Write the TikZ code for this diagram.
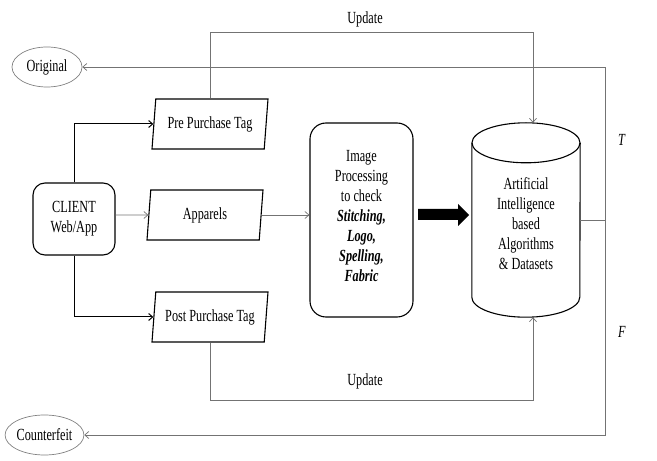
\documentclass[tikz,border=0pt]{standalone}
\usepackage{fontspec}
\setmainfont{Liberation Serif}[FakeStretch=0.72]
\usetikzlibrary{shapes.geometric,arrows.meta,positioning}

\tikzset{
  box/.style={draw,line width=1.1pt,rounded corners=12pt,align=center,inner sep=2pt},
  tag/.style={draw,line width=1.1pt,trapezium,trapezium left angle=79,trapezium right angle=101,
    trapezium stretches body,minimum width=116pt,minimum height=50pt,inner sep=2pt},
  result/.style={draw=gray,line width=0.7pt,ellipse,inner sep=0pt,minimum height=40pt},
  flow/.style={->,line width=1pt},
  feed/.style={->,line width=0.7pt,draw=black!55},
}

\begin{document}
\begin{tikzpicture}[x=1pt,y=1pt,>={Straight Barb[length=4pt,width=7pt]},
    font=\fontsize{17pt}{20pt}\selectfont]
  \useasboundingbox (0,0) rectangle (657,461);

  % outcomes
  \node[result,minimum width=70pt] (orig) at (47,394) {Original};
  \node[result,minimum width=75pt] (counter) at (44.5,26) {Counterfeit};

  % input side
  \node[box,minimum width=82pt,minimum height=72pt] (client) at (74,242) {CLIENT\\Web/App};
  \node[tag] (pre) at (210,337) {Pre Purchase Tag};
  \node[tag] (app) at (205,246) {Apparels};
  \node[tag] (post) at (210,144) {Post Purchase Tag};

  % processing
  \node[box,rounded corners=16pt,minimum width=103pt,minimum height=194pt] (img) at (361.5,241)
    {Image\\Processing\\to check\\\textbf{\textit{Stitching,}}\\\textbf{\textit{Logo,}}\\
     \textbf{\textit{Spelling,}}\\\textbf{\textit{Fabric}}\\[-12pt]\mbox{}};
  \node[align=center,minimum width=108pt,minimum height=194pt,inner sep=0pt] (ai) at (526,241)
    {\\Artificial\\Intelligence\\based\\Algorithms\\\& Datasets};
  \draw[line width=1.1pt] ([yshift=-20pt]ai.north west) -- ([yshift=20pt]ai.south west)
    arc[start angle=180,end angle=360,x radius=54pt,y radius=20pt] -- ([yshift=-20pt]ai.north east);
  \draw[line width=1.1pt] ([yshift=-20pt]ai.north) ellipse[x radius=54pt,y radius=20pt];

  % big arrow
  \fill (418,252) -- (458,252) -- (458,257) -- (469,246) -- (458,235) -- (458,241) -- (418,241) -- cycle;

  \node (t) at (622,321) {\textit{T}};
  \node (f) at (622,129) {\textit{F}};

  % connectors
  \draw[flow] (client.north) |- (pre);
  \draw[flow] (client.south) |- (post);
  \draw[feed] (client.east |- app) -- (app);
  \draw[feed] (app.east) -- (app.east -| img.west);
  \draw[feed] (pre.north) -- ++(0,66pt) -| ([xshift=7pt]ai.north)
    node[pos=0.24,above=2pt] {Update};
  \draw[feed] (post.south) -- ++(0,-58pt) -| ([xshift=7pt]ai.south)
    node[pos=0.24,above=8pt] {Update};
  \draw[feed] (ai.east) -- ++(25pt,0) |- (orig);
  \draw[feed] (ai.east) -- ++(25pt,0) |- (counter);
\end{tikzpicture}
\end{document}
